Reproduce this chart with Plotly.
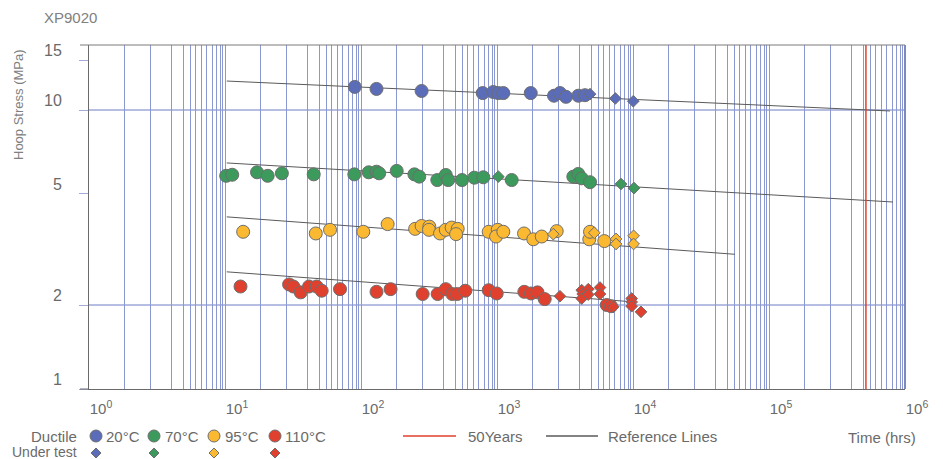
import math
import plotly.graph_objects as go

# ---------------- data ----------------
blue_ductile_t = [90, 130, 279, 785, 939, 1023, 1113, 1770, 2625, 2904, 3215, 3962, 4436]
blue_ductile_s = [12.1, 11.9, 11.7, 11.5, 11.6, 11.5, 11.5, 11.5, 11.25, 11.5, 11.15, 11.25, 11.3]
blue_test_t = [4830, 7413, 10050]
blue_test_s = [11.4, 11.0, 10.75]

green_ductile_t = [10.2, 11.3, 17.2, 20.6, 26.2, 44.9, 89.3, 114, 130, 136, 183, 247, 268, 364,
                   420, 438, 553, 681, 793, 1282, 3640, 3962, 4197, 4830]
green_ductile_s = [5.81, 5.86, 5.98, 5.81, 5.93, 5.88, 5.88, 5.98, 6.01, 5.93, 6.05, 5.88, 5.77, 5.61,
                   5.85, 5.61, 5.61, 5.72, 5.74, 5.61, 5.77, 5.90, 5.69, 5.51]
green_test_t = [1023, 8160, 10170]
green_test_s = [5.77, 5.43, 5.25]

yellow_ductile_t = [13.6, 46.5, 59.2, 104, 157, 250, 279, 318, 316, 381, 420, 464, 514, 500,
                    869, 1012, 984, 1113, 1580, 1849, 2133, 2748, 4772, 4830, 6152]
yellow_ductile_s = [3.66, 3.61, 3.72, 3.66, 3.90, 3.75, 3.84, 3.82, 3.72, 3.61, 3.72, 3.79, 3.75, 3.59,
                    3.66, 3.72, 3.52, 3.66, 3.61, 3.44, 3.52, 3.68, 3.44, 3.66, 3.39]
yellow_test_t = [2594, 5193, 7500, 7500, 10100, 10100]
yellow_test_s = [3.59, 3.63, 3.45, 3.31, 3.54, 3.31]

red_ductile_t = [13.0, 29.6, 31.8, 36.0, 41.5, 47.2, 51.4, 70.1, 130, 165, 284, 366, 420, 469,
                 511, 585, 869, 995, 1588, 1778, 1986, 2243, 6412, 6890]
red_ductile_s = [2.33, 2.37, 2.33, 2.22, 2.33, 2.33, 2.25, 2.28, 2.23, 2.28, 2.19, 2.19, 2.28, 2.19,
                 2.19, 2.25, 2.26, 2.20, 2.23, 2.20, 2.22, 2.10, 2.00, 1.98]
red_test_t = [2904, 4197, 4266, 4197, 4691, 4691, 5718, 5718, 7163, 9780, 9780, 9780, 11450]
red_test_s = [2.15, 2.26, 2.19, 2.11, 2.28, 2.18, 2.31, 2.19, 1.97, 2.11, 2.05, 1.98, 1.89]

# reference lines: [start, end] time and stress
ref_20_t = [10.3, 776000]
ref_20_s = [12.7, 9.92]
ref_70_t = [10.3, 816000]
ref_70_s = [6.46, 4.68]
ref_95_t = [10.3, 56000]
ref_95_s = [4.14, 3.04]
ref_110_t = [10.3, 10500]
ref_110_s = [2.63, 2.05]

fifty_years_t = 516000

y_tick_vals = [1, 2, 5, 10, 15]
y_tick_text = ["1", "2", "5", "10", "15"]
x_decades = [0, 1, 2, 3, 4, 5, 6]
y_grid_vals = [2, 10]

# ---------------- styling ----------------
C_BLUE = "#5b6cb8"
C_GREEN = "#3b9a5c"
C_YELLOW = "#fbb831"
C_RED = "#e0412f"
C_OUTLINE = "#6e6e6e"
C_GRID = "#8a97d0"
C_TEXT = "#6a6a6a"
FONT = "Liberation Sans"
MINOR_FRACS = [0.26, 0.455, 0.61, 0.695, 0.745, 0.785, 0.83, 0.865, 0.905, 0.935, 0.965, 0.985]

W, H = 943, 459
L, R, T, B = 89, 905, 45, 389


def pxx(x):
    return (x - L) / (R - L)


def pxy(y):
    return (B - y) / (B - T)


fig = go.Figure()

# reference lines
for t, s in [(ref_20_t, ref_20_s), (ref_70_t, ref_70_s), (ref_95_t, ref_95_s), (ref_110_t, ref_110_s)]:
    fig.add_trace(go.Scatter(x=t, y=s, mode="lines", line=dict(color="#5a5a5a", width=1),
                             hoverinfo="skip", showlegend=False))

# 50 years line
fig.add_trace(go.Scatter(x=[fifty_years_t, fifty_years_t], y=[1, 17.1], mode="lines",
                         line=dict(color="#e0412f", width=1.5), hoverinfo="skip", showlegend=False))

series = [
    (blue_ductile_t, blue_ductile_s, blue_test_t, blue_test_s, C_BLUE, "20°C"),
    (green_ductile_t, green_ductile_s, green_test_t, green_test_s, C_GREEN, "70°C"),
    (yellow_ductile_t, yellow_ductile_s, yellow_test_t, yellow_test_s, C_YELLOW, "95°C"),
    (red_ductile_t, red_ductile_s, red_test_t, red_test_s, C_RED, "110°C"),
]
for dt, ds, tt, ts, col, name in series:
    fig.add_trace(go.Scatter(x=dt, y=ds, mode="markers", name=name + " ductile",
                             marker=dict(symbol="circle", size=13, color=col,
                                         line=dict(color=C_OUTLINE, width=1)),
                             showlegend=False, cliponaxis=False))
    fig.add_trace(go.Scatter(x=tt, y=ts, mode="markers", name=name + " under test",
                             marker=dict(symbol="diamond", size=9, color=col,
                                         line=dict(color=C_OUTLINE, width=1)),
                             showlegend=False, cliponaxis=False))

# x minor gridlines
grid_vals = []
for d in range(6):
    for f in MINOR_FRACS:
        grid_vals.append(10 ** (d + f))

fig.update_xaxes(type="log", range=[0, 6], tickvals=[10 ** d for d in x_decades],
                 ticktext=["10<sup>%d</sup>" % d for d in x_decades],
                 showgrid=True, gridcolor=C_GRID, gridwidth=1, zeroline=False,
                 minor=dict(tickmode="array", tickvals=grid_vals, showgrid=True,
                            gridcolor=C_GRID, gridwidth=1, ticks=""),
                 showline=True, linecolor="#6a6a6a", linewidth=1, ticks="",
                 tickfont=dict(family=FONT, size=15, color=C_TEXT),
                 ticklabelshift=12, ticklabelstandoff=6, automargin=False)
fig.update_yaxes(type="log", range=[0, math.log10(17.1)], tickvals=y_tick_vals, ticktext=y_tick_text,
                 showgrid=False, zeroline=False, showline=True, linecolor="#6a6a6a", linewidth=1,
                 ticks="outside", ticklen=9, tickcolor="#a3acd9",
                 tickfont=dict(family=FONT, size=16, color=C_TEXT),
                 ticklabelshift=-10, ticklabelstandoff=14, automargin=False)

shapes = []
for v in y_grid_vals:
    shapes.append(dict(type="line", xref="paper", yref="y", x0=0, x1=1, y0=v, y1=v,
                       line=dict(color="#6c7dc5", width=1), layer="below"))
# top border and right border
shapes.append(dict(type="line", xref="paper", yref="paper", x0=-9 / (R - L), x1=1, y0=1, y1=1,
                   line=dict(color="#7a7a7a", width=1)))
shapes.append(dict(type="line", xref="paper", yref="paper", x0=1, x1=1, y0=0, y1=1,
                   line=dict(color="#7d89bf", width=2)))
shapes.append(dict(type="line", xref="paper", yref="paper", x0=-9 / (R - L), x1=0, y0=0, y1=0,
                   line=dict(color="#6a6a6a", width=1)))

# legend keys
legend_cols = [96, 154, 214, 275]
for (dt, ds, tt, ts, col, name), cx in zip(series, legend_cols):
    shapes.append(dict(type="circle", xref="paper", yref="paper", xsizemode="pixel", ysizemode="pixel",
                       xanchor=pxx(cx), yanchor=pxy(436), x0=-6, x1=6, y0=-6, y1=6,
                       fillcolor=col, line=dict(color=C_OUTLINE, width=1)))
    shapes.append(dict(type="path", xref="paper", yref="paper", xsizemode="pixel", ysizemode="pixel",
                       xanchor=pxx(cx), yanchor=pxy(453),
                       path="M 0 5 L 5 0 L 0 -5 L -5 0 Z",
                       fillcolor=col, line=dict(color=C_OUTLINE, width=1)))
shapes.append(dict(type="line", xref="paper", yref="paper", x0=pxx(403), x1=pxx(456),
                   y0=pxy(436), y1=pxy(436), line=dict(color="#e0412f", width=1.5)))
shapes.append(dict(type="line", xref="paper", yref="paper", x0=pxx(546), x1=pxx(598),
                   y0=pxy(436), y1=pxy(436), line=dict(color="#5a5a5a", width=1.5)))

annotations = []


def ann(text, x, y, anchor="left", size=15, color=C_TEXT, angle=0):
    annotations.append(dict(text=text, xref="paper", yref="paper", x=pxx(x), y=pxy(y),
                            xanchor=anchor, yanchor="middle", showarrow=False, textangle=angle,
                            font=dict(family=FONT, size=size, color=color)))


ann("XP9020", 42, 17, size=15, color="#808080")
ann("Hoop Stress (MPa)", 18, 105, anchor="center", size=13, color="#808080", angle=-90)
ann("Ductile", 79, 436, anchor="right")
ann("Under test", 79, 452, anchor="right", size=14)
for (dt, ds, tt, ts, col, name), tx in zip(series, [104, 163, 223, 283]):
    ann(name, tx, 436)
ann("50Years", 466, 436)
ann("Reference Lines", 606, 436)
ann("Time (hrs)", 846, 437)

fig.update_layout(width=W, height=H, margin=dict(l=L, r=W - R, t=T, b=H - B),
                  plot_bgcolor="white", paper_bgcolor="white",
                  shapes=shapes, annotations=annotations, showlegend=False)

fig.write_html("out.html", config={"displayModeBar": False},
               post_script="document.body.style.margin='0px';document.body.style.overflow='hidden';")
